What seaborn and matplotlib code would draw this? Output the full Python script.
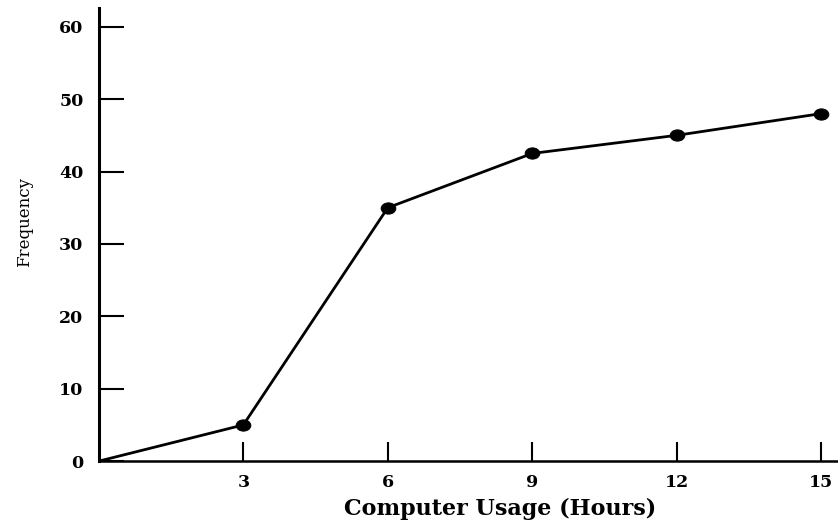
import matplotlib
matplotlib.use("Agg")
import matplotlib.pyplot as plt
from matplotlib.path import Path
from matplotlib.transforms import Affine2D
import seaborn as sns
import pandas as pd

hours = [0, 3, 6, 9, 12, 15]
frequency = [0, 5, 35, 42.5, 45, 48]
x_ticks = [3, 6, 9, 12, 15]
y_ticks = [0, 10, 20, 30, 40, 50, 60]

sns.set_style("white", {'text.color': 'black', 'axes.labelcolor': 'black',
                        'xtick.color': 'black', 'ytick.color': 'black'})
plt.rcParams['font.family'] = ['DejaVu Serif', 'Liberation Serif']

df = pd.DataFrame({'Hours': hours, 'Frequency': frequency})

# slightly wide dot, like in the scanned original
dot = Path.unit_circle().transformed(Affine2D().scale(1.3, 1.0))

fig = plt.figure(figsize=(8.38, 5.27), dpi=100)
ax = fig.add_axes([0.118, 0.125, 0.882, 0.86])

sns.lineplot(data=df, x='Hours', y='Frequency', color='black', linewidth=2,
             marker=dot, markersize=10.5, markeredgecolor='black', ax=ax)
# no dot at the origin
ax.lines[0].set_markevery(list(range(1, len(hours))))

ax.set_xlim(0, 15.35)
ax.set_ylim(0, 62.6)
ax.set_xticks(x_ticks)
ax.set_yticks(y_ticks)
ax.set_xticklabels([str(t) for t in x_ticks], fontsize=12.5, fontweight='bold')
ax.set_yticklabels([str(t) for t in y_ticks], fontsize=12.5, fontweight='bold')
ax.tick_params(axis='x', direction='in', length=13.5, width=1.5, pad=9, bottom=True)
ax.tick_params(axis='y', direction='in', length=18, width=1.5, pad=11, left=True)

for side in ['top', 'right']:
    ax.spines[side].set_visible(False)
ax.spines['left'].set_linewidth(2.2)
ax.spines['bottom'].set_linewidth(1.8)
ax.spines['left'].set_color('black')
ax.spines['bottom'].set_color('black')

ax.set_xlabel('Computer Usage (Hours)', fontsize=16, fontweight='bold')
ax.xaxis.set_label_coords(0.543, -0.082)
ax.set_ylabel('Frequency', fontsize=12)
ax.yaxis.set_label_coords(-0.089, 0.528)

fig.savefig('out.png', dpi=100)
